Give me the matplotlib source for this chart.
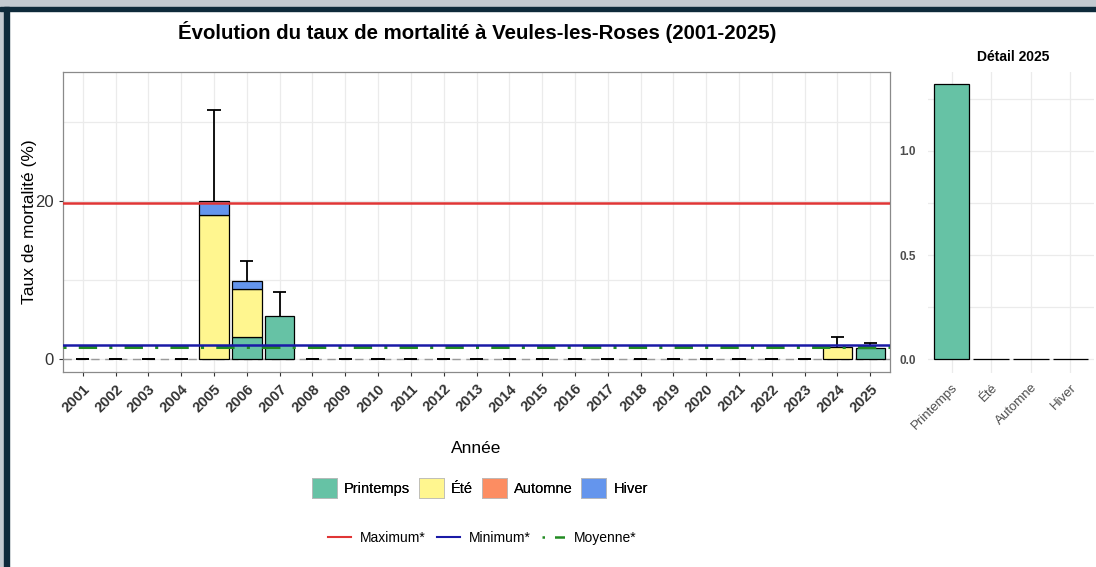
import matplotlib.pyplot as plt
import matplotlib.patches as mpatches
from matplotlib.lines import Line2D
import numpy as np

plt.rcParams['font.family'] = ['Liberation Sans', 'DejaVu Sans']

# données
years = list(range(2001, 2026))
printemps = [0, 0, 0, 0, 0, 2.8, 5.4, 0, 0, 0, 0, 0, 0, 0, 0, 0, 0, 0, 0, 0, 0, 0, 0, 0, 1.32]
ete = [0, 0, 0, 0, 18.2, 6.1, 0, 0, 0, 0, 0, 0, 0, 0, 0, 0, 0, 0, 0, 0, 0, 0, 0, 1.5, 0]
automne = [0] * 25
hiver = [0, 0, 0, 0, 1.8, 0.9, 0, 0, 0, 0, 0, 0, 0, 0, 0, 0, 0, 0, 0, 0, 0, 0, 0, 0, 0]
err_top = [0, 0, 0, 0, 31.6, 12.4, 8.5, 0, 0, 0, 0, 0, 0, 0, 0, 0, 0, 0, 0, 0, 0, 0, 0, 2.8, 2.0]

val_max = 19.8
val_min = 1.72
val_moy = 1.45

saisons = ["Printemps", "Été", "Automne", "Hiver"]
detail_2025 = [1.32, 0, 0, 0]

couleurs = {"Printemps": "#66c2a5", "Été": "#fff68f", "Automne": "#fc8d62", "Hiver": "#6495ed"}

fig = plt.figure(figsize=(10.96, 5.67), dpi=100)

# cadre sombre (haut et gauche)
fig.patches.append(mpatches.Rectangle((0, 1 - 7 / 567), 1, 7 / 567, transform=fig.transFigure,
                                      color="#c3cad0", zorder=0))
fig.patches.append(mpatches.Rectangle((0, 0), 4 / 1096, 1, transform=fig.transFigure,
                                      color="#c3cad0", zorder=0))
fig.patches.append(mpatches.Rectangle((0, 1 - 11 / 567), 1, 4.5 / 567, transform=fig.transFigure,
                                      color="#0e2a3a", zorder=1))
fig.patches.append(mpatches.Rectangle((4 / 1096, 0), 4.5 / 1096, 1 - 7 / 567, transform=fig.transFigure,
                                      color="#0e2a3a", zorder=1))

# ---- panneau principal ----
ax = fig.add_axes([63 / 1096, 1 - 372 / 567, 827 / 1096, 300 / 567])
x = np.arange(len(years))
p = np.array(printemps)
e = np.array(ete)
a = np.array(automne)
h = np.array(hiver)

bottom = np.zeros(len(years))
for nom, vals in zip(saisons, [p, e, a, h]):
    m = vals > 0
    ax.bar(x[m], vals[m], bottom=bottom[m], width=0.9, color=couleurs[nom],
           edgecolor="black", linewidth=0.9, zorder=3)
    bottom = bottom + vals

total = bottom
top = np.array(err_top)
ax.vlines(x, total, top, color="black", linewidth=1.3, zorder=4)
ax.hlines(top, x - 0.2, x + 0.2, color="black", linewidth=1.3, zorder=4)
zero = total == 0
ax.hlines(total[zero], x[zero] - 0.2, x[zero] + 0.2, color="black", linewidth=1.3, zorder=4)

ax.axhline(0, color="#9a9a9a", linestyle=(0, (6, 4)), linewidth=1, zorder=2)
ax.axhline(val_moy, color="#228b22", linestyle=(0, (1, 4, 6, 4)), linewidth=2.2, zorder=5)
ax.axhline(val_min, color="#1a1aa6", linewidth=1.8, zorder=6)
ax.axhline(val_max, color="#e03535", linewidth=1.8, zorder=6)

ax.set_xlim(-0.6, len(years) - 0.4)
ax.set_ylim(-1.7, 36.4)
ax.set_yticks([0, 20])
ax.set_yticks([10, 30], minor=True)
ax.set_xticks(x)
ax.set_xticklabels([str(yv) for yv in years], rotation=45, ha="right", va="top",
                   rotation_mode="anchor", fontsize=10.5, fontweight="bold", color="#333333")
ax.tick_params(axis="y", labelsize=12, colors="#333333", length=3)
ax.tick_params(axis="y", which="minor", length=0)
ax.tick_params(axis="x", length=3, color="#333333", pad=4)
ax.grid(True, which="both", color="#ebebeb", linewidth=0.9, zorder=0)
ax.set_axisbelow(True)
for s in ax.spines.values():
    s.set_color("#8a8a8a")
    s.set_linewidth(0.9)
ax.set_ylabel("Taux de mortalité (%)", fontsize=12.5)
ax.yaxis.set_label_coords(-(63 - 37) / 827, 0.5)
ax.set_xlabel("Année", fontsize=12.5)
ax.xaxis.set_label_coords(0.5, -(441 - 372) / 300)

fig.text(477 / 1096, 1 - 32 / 567, "Évolution du taux de mortalité à Veules-les-Roses (2001-2025)",
         ha="center", va="center", fontsize=14.7, fontweight="bold")

# ---- panneau détail 2025 ----
ax2 = fig.add_axes([928 / 1096, 1 - 373 / 567, 166 / 1096, 301 / 567])
xs = np.arange(len(saisons))
ax2.bar(xs, detail_2025, width=0.9, color=[couleurs[s] for s in saisons],
        edgecolor="black", linewidth=0.9, zorder=3)
ax2.set_xlim(-0.6, len(saisons) - 0.4)
ax2.set_ylim(-0.066, 1.378)
ax2.set_yticks([0, 0.5, 1.0])
ax2.set_yticklabels(["0.0", "0.5", "1.0"])
ax2.set_yticks([0.25, 0.75, 1.25], minor=True)
ax2.set_xticks(xs)
ax2.set_xticklabels(saisons, rotation=45, ha="right", va="top", rotation_mode="anchor",
                    fontsize=9.5, color="#4d4d4d")
ax2.tick_params(axis="both", which="both", length=0)
ax2.tick_params(axis="x", pad=6)
ax2.tick_params(axis="y", labelsize=8.5, colors="#4d4d4d", pad=9)
for lab in ax2.get_yticklabels():
    lab.set_fontweight("bold")
ax2.grid(True, which="both", color="#ebebeb", linewidth=0.9, zorder=0)
ax2.set_axisbelow(True)
for s in ax2.spines.values():
    s.set_visible(False)
fig.text(1013 / 1096, 1 - 57 / 567, "Détail 2025", ha="center", va="center",
         fontsize=10, fontweight="bold")

# ---- légendes ----
h1 = [mpatches.Patch(facecolor=couleurs[s], edgecolor="#bbbbbb", linewidth=0.6, label=s) for s in saisons]
leg1 = fig.legend(handles=h1, loc="center", bbox_to_anchor=(480 / 1096, 1 - 488 / 567), ncol=4,
                  frameon=False, fontsize=10.5, handlelength=1.7, handleheight=1.7,
                  handletextpad=0.5, columnspacing=0.6)

h2 = [Line2D([], [], color="#e03535", linewidth=1.5, label="Maximum*"),
      Line2D([], [], color="#1a1aa6", linewidth=1.5, label="Minimum*"),
      Line2D([], [], color="#228b22", linewidth=1.8, linestyle=(0, (1, 4, 4, 4)), label="Moyenne*")]
fig.legend(handles=h2, loc="center", bbox_to_anchor=(482 / 1096, 1 - 538 / 567), ncol=3,
           frameon=False, fontsize=10, handlelength=1.7, handletextpad=0.6, columnspacing=0.8)
fig.add_artist(leg1)

fig.savefig("out.png", dpi=100)
